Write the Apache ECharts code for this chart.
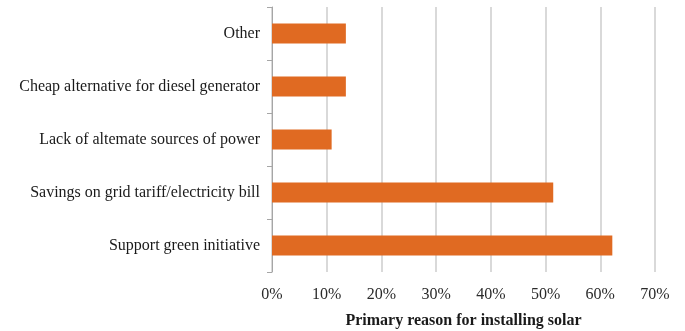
<!DOCTYPE html>
<html>
<head>
<meta charset="utf-8">
<script src="https://cdn.jsdelivr.net/npm/echarts@6/dist/echarts.min.js"></script>
<style>
  html, body { margin: 0; padding: 0; background: #fff; }
  #chart { width: 685px; height: 331px; }
</style>
</head>
<body>
<div id="chart"></div>
<script>
// Reasons listed bottom-to-top, as the category axis draws them
const reasons = [
  'Support green initiative',
  'Savings on grid tariff/electricity bill',
  'Lack of altemate sources of power',
  'Cheap alternative for diesel generator',
  'Other'
];
// Share of respondents (%)
const shares = [62.2, 51.4, 10.9, 13.5, 13.5];
const percentTicks = [0, 10, 20, 30, 40, 50, 60, 70];

const serif = '"Liberation Serif", "Times New Roman", serif';

const chart = echarts.init(document.getElementById('chart'));
chart.setOption({
  animation: false,
  grid: { left: 272, right: 30, top: 7, bottom: 59, containLabel: false, outerBoundsMode: 'none' },
  xAxis: {
    type: 'value',
    min: percentTicks[0],
    max: percentTicks[percentTicks.length - 1],
    interval: 10,
    name: 'Primary reason for installing solar',
    nameLocation: 'middle',
    nameGap: 41,
    nameTextStyle: { fontFamily: serif, fontSize: 16, fontWeight: 'bold', color: '#1a1a1a' },
    axisLine: { show: false },
    axisTick: { show: false },
    axisLabel: {
      formatter: v => v + '%',
      fontFamily: serif, fontSize: 16, color: '#2a2a2a', margin: 15
    },
    splitLine: { show: true, lineStyle: { color: '#d9d9d9', width: 2 } }
  },
  yAxis: {
    type: 'category',
    data: reasons,
    axisLine: { show: true, lineStyle: { color: '#a6a6a6', width: 1 } },
    axisTick: { show: true, length: 5, lineStyle: { color: '#a6a6a6' } },
    axisLabel: { fontFamily: serif, fontSize: 16, color: '#1a1a1a', margin: 12 }
  },
  series: [{
    type: 'bar',
    data: shares,
    barWidth: 20,
    itemStyle: { color: '#E06A22' }
  }]
});
</script>
</body>
</html>
